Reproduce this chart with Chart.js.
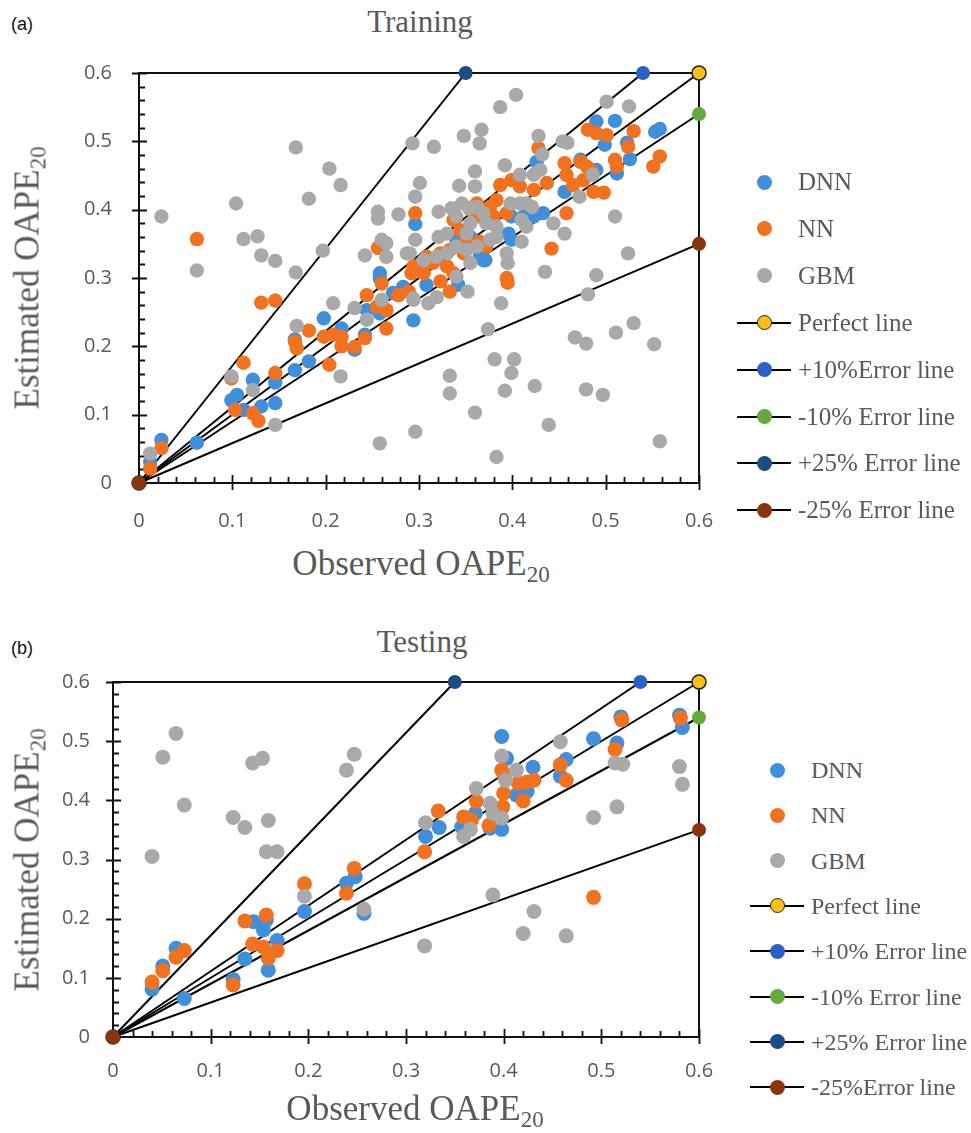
<!DOCTYPE html>
<html>
<head>
<meta charset="utf-8">
<script src="https://cdn.jsdelivr.net/npm/chart.js@4.4.1/dist/chart.umd.min.js"></script>
<style>
  html, body { margin: 0; padding: 0; background: #fff; }
  body { width: 971px; height: 1133px; position: relative; overflow: hidden; font-family: 'Liberation Serif', 'Times New Roman', serif; }
  canvas { position: absolute; left: 0; }
  .tag { position: absolute; font-family: 'Liberation Sans', Arial, sans-serif; font-size: 18px; color: #111; transform: translate(-50%, -50%); }
  .ttl { position: absolute; font-size: 31px; color: #595959; white-space: nowrap; transform: translate(-50%, -50%); line-height: 1; }
  .axt { position: absolute; font-size: 35px; color: #595959; white-space: nowrap; line-height: 1; }
  .axt sub { font-size: 23px; vertical-align: -7px; line-height: 0; }
  .axt.x { transform: translate(-50%, -50%); }
  .axt.y { transform: translate(-50%, -50%) rotate(-90deg); }
  .legend { position: absolute; }
  .row { position: absolute; left: 0; height: 0; }
  .sw { position: absolute; top: 0; width: 54px; height: 0; }
  .sw .ln { position: absolute; left: 0; top: -1px; width: 54px; height: 2px; background: #000; }
  .sw .dot { position: absolute; left: 19.5px; top: -7.5px; width: 15px; height: 15px; border-radius: 50%; box-sizing: border-box; }
  .lbl { position: absolute; left: 61px; top: 0; transform: translateY(-52%); color: #595959; white-space: nowrap; line-height: 1; }
</style>
</head>
<body>
<div class="tag" style="left:22px;top:24px;">(a)</div>
<div class="ttl" style="left:420px;top:21px;">Training</div>
<canvas id="trainChart" width="760" height="540" style="top:0px;"></canvas>
<div class="axt x" style="left:421px;top:563px;">Observed OAPE<sub>20</sub></div>
<div class="axt y" style="left:27px;top:278px;">Estimated OAPE<sub>20</sub></div>
<div class="legend" id="trainLegend" style="left:737px;top:0px;font-size:25px;"></div>

<div class="tag" style="left:22px;top:648px;">(b)</div>
<div class="ttl" style="left:422px;top:641px;">Testing</div>
<canvas id="testChart" width="760" height="500" style="top:600px;"></canvas>
<div class="axt x" style="left:415px;top:1108px;">Observed OAPE<sub>20</sub></div>
<div class="axt y" style="left:27px;top:860px;">Estimated OAPE<sub>20</sub></div>
<div class="legend" id="testLegend" style="left:750px;top:0px;font-size:24px;"></div>

<script>
// ---- series names and colours ----
const modelNames = ['DNN', 'NN', 'GBM'];
const modelColors = ['#3f8fdc', '#f2711f', '#a9a9a9'];

// ---- axis ticks (both axes, both panels) ----
const tickValues = [0, 0.1, 0.2, 0.3, 0.4, 0.5, 0.6];
const tickLabels = ['0', '0.1', '0.2', '0.3', '0.4', '0.5', '0.6'];

// ---- reference lines: end point of each line that starts at the origin ----
const trainLineNames = ['Perfect line', '+10%Error line', '-10% Error line', '+25% Error line', '-25% Error line'];
const testLineNames = ['Perfect line', '+10% Error line', '-10% Error line', '+25% Error line', '-25%Error line'];
const lineEndX = [0.6, 0.54, 0.6, 0.35, 0.6];
const lineEndY = [0.6, 0.6, 0.54, 0.6, 0.35];
const lineColors = ['#fdbf14', '#2d5fc6', '#64a93c', '#1b4c85', '#8c3409'];

// ---- training set: observed (x) vs estimated (y) OAPE20 ----
const trainDnnX = [0.012, 0.024, 0.062, 0.099, 0.105, 0.112, 0.122, 0.131, 0.146, 0.146, 0.167, 0.167, 0.182, 0.198, 0.217, 0.231, 0.242, 0.244, 0.258, 0.258, 0.258, 0.272, 0.283, 0.294, 0.296, 0.308, 0.342, 0.340, 0.355, 0.371, 0.369, 0.365, 0.396, 0.399, 0.399, 0.412, 0.423, 0.433, 0.456, 0.426, 0.473, 0.490, 0.490, 0.510, 0.499, 0.523, 0.526, 0.512, 0.553, 0.558];
const trainDnnY = [0.031, 0.063, 0.059, 0.121, 0.129, 0.107, 0.151, 0.112, 0.117, 0.147, 0.165, 0.210, 0.178, 0.241, 0.226, 0.195, 0.217, 0.253, 0.300, 0.248, 0.307, 0.278, 0.287, 0.238, 0.379, 0.290, 0.290, 0.356, 0.360, 0.326, 0.326, 0.331, 0.365, 0.356, 0.390, 0.390, 0.390, 0.395, 0.426, 0.470, 0.473, 0.458, 0.529, 0.530, 0.495, 0.498, 0.474, 0.453, 0.514, 0.518];

const trainNnX = [0.012, 0.024, 0.062, 0.099, 0.103, 0.112, 0.122, 0.128, 0.131, 0.146, 0.146, 0.167, 0.169, 0.182, 0.198, 0.204, 0.208, 0.217, 0.217, 0.231, 0.242, 0.244, 0.256, 0.255, 0.260, 0.265, 0.265, 0.278, 0.289, 0.292, 0.299, 0.296, 0.294, 0.305, 0.315, 0.330, 0.337, 0.308, 0.323, 0.333, 0.348, 0.337, 0.344, 0.351, 0.365, 0.372, 0.383, 0.376, 0.362, 0.355, 0.365, 0.380, 0.394, 0.387, 0.399, 0.408, 0.423, 0.437, 0.394, 0.395, 0.428, 0.456, 0.473, 0.480, 0.458, 0.465, 0.476, 0.485, 0.487, 0.498, 0.458, 0.442, 0.481, 0.490, 0.501, 0.530, 0.524, 0.510, 0.512, 0.551, 0.558, 0.278, 0.265, 0.333, 0.323];
const trainNnY = [0.021, 0.051, 0.357, 0.153, 0.107, 0.176, 0.102, 0.091, 0.264, 0.267, 0.161, 0.207, 0.197, 0.223, 0.214, 0.173, 0.217, 0.214, 0.200, 0.199, 0.212, 0.275, 0.344, 0.258, 0.292, 0.253, 0.226, 0.275, 0.280, 0.307, 0.317, 0.395, 0.317, 0.307, 0.322, 0.317, 0.307, 0.331, 0.336, 0.341, 0.336, 0.385, 0.370, 0.356, 0.353, 0.346, 0.414, 0.404, 0.409, 0.400, 0.390, 0.390, 0.395, 0.436, 0.443, 0.434, 0.429, 0.439, 0.300, 0.293, 0.490, 0.468, 0.470, 0.463, 0.451, 0.436, 0.443, 0.456, 0.426, 0.425, 0.395, 0.343, 0.517, 0.512, 0.509, 0.515, 0.492, 0.473, 0.463, 0.463, 0.478, 0.275, 0.253, 0.280, 0.295];

const trainGbmX = [0.012, 0.024, 0.062, 0.099, 0.104, 0.112, 0.122, 0.127, 0.131, 0.146, 0.146, 0.168, 0.168, 0.169, 0.182, 0.197, 0.204, 0.208, 0.216, 0.216, 0.231, 0.242, 0.244, 0.256, 0.256, 0.260, 0.265, 0.265, 0.260, 0.258, 0.278, 0.287, 0.293, 0.294, 0.296, 0.296, 0.296, 0.301, 0.316, 0.321, 0.335, 0.346, 0.354, 0.362, 0.369, 0.343, 0.348, 0.367, 0.365, 0.360, 0.360, 0.392, 0.387, 0.404, 0.408, 0.423, 0.430, 0.398, 0.408, 0.415, 0.421, 0.410, 0.415, 0.410, 0.394, 0.372, 0.383, 0.376, 0.383, 0.340, 0.351, 0.355, 0.290, 0.305, 0.319, 0.330, 0.340, 0.351, 0.362, 0.321, 0.330, 0.428, 0.454, 0.459, 0.432, 0.486, 0.472, 0.456, 0.444, 0.435, 0.501, 0.525, 0.510, 0.524, 0.490, 0.481, 0.388, 0.374, 0.467, 0.479, 0.511, 0.530, 0.552, 0.381, 0.402, 0.399, 0.333, 0.333, 0.392, 0.424, 0.479, 0.497, 0.360, 0.439, 0.383, 0.558, 0.395, 0.355, 0.340, 0.294, 0.310, 0.319, 0.352];
const trainGbmY = [0.043, 0.390, 0.311, 0.156, 0.409, 0.357, 0.136, 0.361, 0.333, 0.325, 0.085, 0.491, 0.308, 0.230, 0.416, 0.340, 0.460, 0.263, 0.436, 0.156, 0.256, 0.333, 0.239, 0.397, 0.387, 0.356, 0.351, 0.331, 0.268, 0.058, 0.393, 0.336, 0.497, 0.268, 0.419, 0.356, 0.075, 0.439, 0.492, 0.397, 0.402, 0.409, 0.402, 0.404, 0.395, 0.435, 0.508, 0.517, 0.497, 0.456, 0.434, 0.465, 0.550, 0.568, 0.451, 0.451, 0.458, 0.409, 0.409, 0.409, 0.404, 0.385, 0.375, 0.353, 0.336, 0.380, 0.375, 0.356, 0.360, 0.390, 0.365, 0.380, 0.336, 0.326, 0.331, 0.336, 0.346, 0.341, 0.346, 0.360, 0.365, 0.508, 0.500, 0.498, 0.481, 0.451, 0.419, 0.365, 0.380, 0.309, 0.558, 0.551, 0.390, 0.336, 0.304, 0.276, 0.263, 0.225, 0.213, 0.204, 0.220, 0.234, 0.203, 0.181, 0.181, 0.161, 0.157, 0.131, 0.135, 0.142, 0.137, 0.129, 0.103, 0.085, 0.038, 0.061, 0.322, 0.322, 0.302, 0.270, 0.263, 0.272, 0.280];

// ---- testing set ----
const testDnnX = [0.040, 0.051, 0.0645, 0.073, 0.123, 0.135, 0.144, 0.154, 0.157, 0.159, 0.168, 0.196, 0.239, 0.248, 0.257, 0.320, 0.334, 0.357, 0.371, 0.386, 0.398, 0.398, 0.403, 0.413, 0.424, 0.430, 0.458, 0.464, 0.492, 0.516, 0.520, 0.580, 0.583];
const testDnnY = [0.081, 0.120, 0.150, 0.065, 0.097, 0.132, 0.195, 0.181, 0.198, 0.113, 0.163, 0.212, 0.260, 0.271, 0.209, 0.339, 0.354, 0.355, 0.378, 0.353, 0.351, 0.508, 0.471, 0.409, 0.415, 0.456, 0.441, 0.469, 0.504, 0.497, 0.541, 0.544, 0.523];

const testNnX = [0.040, 0.051, 0.0645, 0.073, 0.123, 0.135, 0.143, 0.154, 0.157, 0.159, 0.168, 0.196, 0.239, 0.247, 0.319, 0.333, 0.359, 0.367, 0.372, 0.385, 0.398, 0.399, 0.400, 0.401, 0.415, 0.420, 0.424, 0.431, 0.458, 0.464, 0.492, 0.514, 0.521, 0.581];
const testNnY = [0.093, 0.112, 0.135, 0.146, 0.088, 0.196, 0.157, 0.152, 0.206, 0.133, 0.146, 0.259, 0.243, 0.285, 0.313, 0.382, 0.372, 0.367, 0.398, 0.358, 0.451, 0.389, 0.412, 0.440, 0.429, 0.399, 0.431, 0.434, 0.460, 0.434, 0.236, 0.486, 0.536, 0.539];

const testGbmX = [0.040, 0.051, 0.0645, 0.073, 0.123, 0.135, 0.143, 0.153, 0.157, 0.159, 0.168, 0.196, 0.239, 0.247, 0.257, 0.319, 0.320, 0.359, 0.366, 0.372, 0.386, 0.389, 0.389, 0.398, 0.398, 0.402, 0.413, 0.420, 0.431, 0.458, 0.464, 0.492, 0.514, 0.516, 0.522, 0.580, 0.583];
const testGbmY = [0.305, 0.473, 0.513, 0.392, 0.371, 0.354, 0.463, 0.471, 0.313, 0.366, 0.313, 0.238, 0.451, 0.478, 0.216, 0.154, 0.362, 0.339, 0.351, 0.420, 0.395, 0.378, 0.240, 0.370, 0.475, 0.434, 0.451, 0.175, 0.212, 0.499, 0.171, 0.371, 0.463, 0.389, 0.461, 0.457, 0.427];

function zip(xs, ys) { return xs.map((v, i) => ({ x: v, y: ys[i] })); }

// plot frame, crossing major ticks and inward minor ticks
const framePlugin = {
  id: 'frameTicks',
  beforeDatasetsDraw(chart) {
    const { ctx, chartArea: a, scales: { x, y } } = chart;
    ctx.save();
    ctx.strokeStyle = '#111';
    ctx.lineWidth = 2;
    ctx.strokeRect(a.left, a.top, a.right - a.left, a.bottom - a.top);
    ctx.lineWidth = 1.8;
    ctx.beginPath();
    for (let i = 0; i <= 30; i++) {
      const v = i * 0.02;
      const major = i % 5 === 0;
      const px = Math.round(x.getPixelForValue(v)) + 0.5;
      const py = Math.round(y.getPixelForValue(v)) + 0.5;
      if (major) {
        ctx.moveTo(px, a.bottom - 8); ctx.lineTo(px, a.bottom + 7);
        ctx.moveTo(a.left - 7, py); ctx.lineTo(a.left + 8, py);
      } else {
        ctx.moveTo(px, a.bottom - 6); ctx.lineTo(px, a.bottom);
        ctx.moveTo(a.left, py); ctx.lineTo(a.left + 6, py);
      }
    }
    ctx.stroke();
    ctx.restore();
  }
};

function makeChart(canvasId, series, lineNames, g) {
  const datasets = [];
  // reference lines (drawn underneath the scatter points)
  lineNames.forEach((name, i) => {
    datasets.push({
      label: name,
      data: [{ x: 0, y: 0 }, { x: lineEndX[i], y: lineEndY[i] }],
      showLine: true,
      clip: false,
      borderColor: '#000',
      borderWidth: 2,
      pointRadius: 7,
      pointBackgroundColor: lineColors[i],
      pointBorderColor: i === 0 ? '#222' : lineColors[i],
      pointBorderWidth: i === 0 ? 1.5 : 0,
      order: 7 - i
    });
  });
  // model scatter series: GBM on top, then NN, then DNN
  series.forEach((pts, i) => {
    datasets.push({
      label: modelNames[i],
      data: pts,
      showLine: false,
      clip: false,
      pointRadius: g.r,
      pointBackgroundColor: modelColors[i],
      pointBorderWidth: 0,
      pointBorderColor: modelColors[i],
      order: 2 - i
    });
  });
  const tickFont = { family: "'Open Sans', 'Noto Sans', sans-serif", size: 20 };
  return new Chart(document.getElementById(canvasId), {
    type: 'scatter',
    data: { datasets },
    options: {
      responsive: false,
      animation: false,
      events: [],
      layout: { padding: { left: 0, top: g.top, right: g.right, bottom: 0 } },
      plugins: { legend: { display: false }, tooltip: { enabled: false }, title: { display: false } },
      scales: {
        x: {
          type: 'linear', min: 0, max: 0.6,
          afterBuildTicks: s => { s.ticks = tickValues.map(v => ({ value: v })); },
          afterFit: s => { s.height = g.xh; },
          grid: { display: false },
          border: { display: false },
          ticks: { color: '#595959', font: tickFont, padding: g.xpad, maxRotation: 0, autoSkip: false,
                   callback: (v, i) => tickLabels[i] }
        },
        y: {
          type: 'linear', min: 0, max: 0.6,
          afterBuildTicks: s => { s.ticks = tickValues.map(v => ({ value: v })); },
          afterFit: s => { s.width = g.yw; },
          grid: { display: false },
          border: { display: false },
          ticks: { color: '#595959', font: tickFont, padding: g.ypad, autoSkip: false,
                   callback: (v, i) => tickLabels[i] }
        }
      }
    },
    plugins: [framePlugin]
  });
}

function buildLegend(elId, lineNames, g) {
  const el = document.getElementById(elId);
  const rows = [];
  modelNames.forEach((n, i) => rows.push({ name: n, color: modelColors[i], line: false, border: 'none' }));
  lineNames.forEach((n, i) => rows.push({ name: n, color: lineColors[i], line: true, border: i === 0 ? '1.5px solid #222' : 'none' }));
  rows.forEach((r, i) => {
    const row = document.createElement('div');
    row.className = 'row';
    row.style.top = (g.y0 + i * g.dy) + 'px';
    row.innerHTML = '<div class="sw">' + (r.line ? '<div class="ln"></div>' : '') +
      '<div class="dot" style="background:' + r.color + ';border:' + r.border + '"></div></div>' +
      '<div class="lbl">' + r.name + '</div>';
    el.appendChild(row);
  });
}

makeChart('trainChart',
  [zip(trainDnnX, trainDnnY), zip(trainNnX, trainNnY), zip(trainGbmX, trainGbmY)],
  trainLineNames,
  { top: 73, right: 61, xh: 57, yw: 139, xpad: 18, ypad: 19, r: 7.2 });
makeChart('testChart',
  [zip(testDnnX, testDnnY), zip(testNnX, testNnY), zip(testGbmX, testGbmY)],
  testLineNames,
  { top: 82, right: 61, xh: 63, yw: 113, xpad: 14, ypad: 15, r: 7.5 });

buildLegend('trainLegend', trainLineNames, { y0: 182, dy: 46.9 });
buildLegend('testLegend', testLineNames, { y0: 770, dy: 45.3 });
</script>
</body>
</html>
